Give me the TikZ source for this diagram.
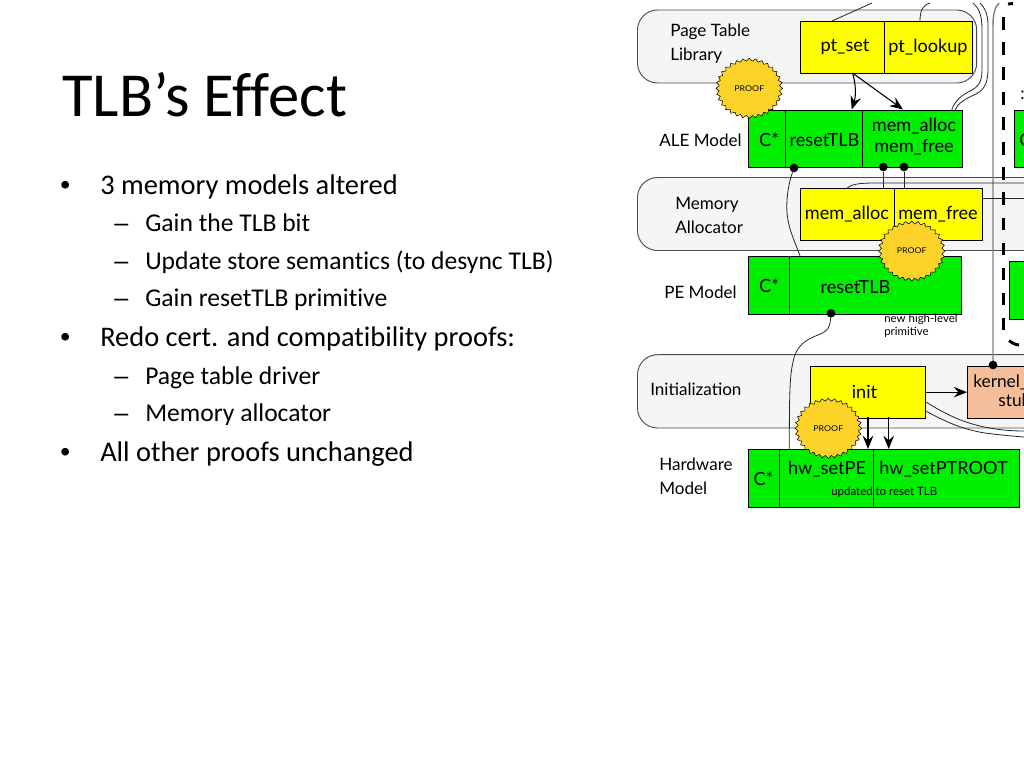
\documentclass[tikz,border=0pt]{standalone}
\usepackage{fontspec}
\setmainfont{Carlito}[Ligatures=NoCommon]
\newfontfamily\diagfont{Lato}
\newfontfamily\markfont{Liberation Sans}
\usetikzlibrary{shapes.geometric, arrows.meta, positioning}
\definecolor{boxgreen}{RGB}{0,238,0}
\definecolor{boxyellow}{RGB}{255,255,0}
\definecolor{sealgold}{RGB}{253,211,42}
\definecolor{stuborange}{RGB}{245,190,155}
\definecolor{layergray}{RGB}{245,245,245}
\tikzset{
    topbullet/.style={anchor=base west, font=\fontsize{21.3}{21.3}\selectfont, inner sep=0pt},
    subbullet/.style={anchor=base west, font=\fontsize{19.2}{19.2}\selectfont, inner sep=0pt},
    topmark/.style={anchor=base west, font=\markfont\fontsize{21}{21}\selectfont, inner sep=0pt},
    submark/.style={anchor=base west, font=\markfont\fontsize{18.9}{18.9}\selectfont, inner sep=0pt},
    layerbox/.style={draw=black!70, fill=layergray, rounded corners=15pt, line width=0.7pt},
    modulebox/.style={draw=black, line width=0.7pt, inner sep=0pt, anchor=north west},
    greenbox/.style={modulebox, fill=boxgreen, minimum height=43.3pt},
    yellowbox/.style={modulebox, fill=boxyellow, minimum height=39pt},
    layerlabel/.style={font=\diagfont\fontsize{12.8}{18}\selectfont, align=left, inner sep=0pt, anchor=west},
    boxlabel/.style={font=\diagfont\fontsize{13.6}{15.75}\selectfont, align=center, inner sep=0pt},
    stublabel/.style={font=\diagfont\fontsize{13}{15}\selectfont, inner sep=0pt, anchor=base west},
    smalllabel/.style={font=\diagfont\fontsize{8.6}{9.6}\selectfont, align=left, inner sep=0pt, anchor=west},
    proofseal/.style={star, star points=32, star point ratio=1.1, draw=black, fill=sealgold, line width=0.4pt, minimum size=50pt, inner sep=0pt, font=\diagfont\fontsize{6.6}{6.6}\selectfont, transform shape, yscale=0.9},
    wire/.style={draw=black!85, line width=0.6pt},
    arrowline/.style={draw=black, line width=0.8pt, -{Stealth[length=10pt,width=8pt,inset=3.5pt]}},
    pindot/.style={circle, fill=black, minimum size=6.5pt, inner sep=0pt},
    boundary/.style={draw=black, line width=2.2pt},
}
\begin{document}
\begin{tikzpicture}[x=0.75pt, y=-0.75pt]
    \useasboundingbox (0,0) rectangle (1024,768);
    \fill[white] (0,0) rectangle (1024,768);
    % title
    \node[anchor=base west, inner sep=0pt, font=\fontsize{47}{47}\selectfont] (title) at (62,116) {TLB’s Effect};
    % bullets
    \node[topmark] (b1) at (60,194) {•};
    \node[topbullet] (t1) at (100,194) {3 memory models altered};
    \node[submark] (d1) at (114,231) {–};
    \node[subbullet] (s1) at (145,231) {Gain the TLB bit};
    \node[submark] (d2) at (114,269) {–};
    \node[subbullet] (s2) at (145,269) {Update store semantics (to desync TLB)};
    \node[submark] (d3) at (114,306) {–};
    \node[subbullet] (s3) at (145,306) {Gain resetTLB primitive};
    \node[topmark] (b2) at (60,346) {•};
    \node[topbullet] (t2) at (100,346) {Redo cert. and compatibility proofs:};
    \node[submark] (d4) at (114,384) {–};
    \node[subbullet] (s4) at (145,384) {Page table driver};
    \node[submark] (d5) at (114,421) {–};
    \node[subbullet] (s5) at (145,421) {Memory allocator};
    \node[topmark] (b3) at (60,461) {•};
    \node[topbullet] (t3) at (100,461) {All other proofs unchanged};

    % layers
    \draw[layerbox] (637.5,10) rectangle (976.7,83);
    \draw[layerbox] (637.5,177.5) rectangle (1060,250.5);
    \draw[layerbox] (637.5,354.7) rectangle (1060,428);
    \node[layerlabel] (ptl) at (670,44) {Page Table\\Library};
    \node[layerlabel] (alel) at (659,140) {ALE Model};
    \node[layerlabel] (mal) at (675,215) {Memory\\Allocator};
    \node[layerlabel] (pel) at (664,292) {PE Model};
    \node[layerlabel] (inl) at (650,389) {Initialization};
    \node[layerlabel] (hwl) at (659,476) {Hardware\\Model};

    % free ends at the edge of the picture
    \coordinate (topa) at (872,3);
    \coordinate (topb) at (930,3);
    \coordinate (topc) at (973,3);
    \coordinate (topd) at (980,3);
    \coordinate (tope) at (999,3);
    \coordinate (edgea) at (1024,183);
    \coordinate (edgeb) at (1024,198.3);
    \coordinate (edgec) at (1024,431);
    \coordinate (edged) at (1024,437);

    % wires running behind the modules
    \draw[wire] (832,21) -- (topa);
    \draw[wire] (920,21) .. controls (920,10) and (923,5) .. (topb);
    \draw[wire] (951.7,110) .. controls (955,100) and (962,95) .. (972,90) .. controls (981,85) and (982,78) .. (982,68) -- (982,30) .. controls (982,15) and (979,8) .. (topc);
    \draw[wire] (955,110) .. controls (958,103) and (965,99) .. (976,94) .. controls (986,89) and (988,80) .. (988,68) -- (988,25) .. controls (988,15) and (985,8) .. (topd);
    \draw[draw=black!50, line width=1.1pt] (993,365) -- (993,25) .. controls (993,14) and (995,7) .. (tope);
    \draw[wire] (847,188) .. controls (852,184) and (860,183) .. (875,183) -- (edgea);
    \draw[wire] (982,198.3) -- (edgeb);
    \draw[wire] (925.5,401.7) .. controls (945,414) and (965,424) .. (990,428) .. controls (1000,430) and (1012,431) .. (edgec);
    \draw[wire] (925.5,411) .. controls (945,421) and (960,429) .. (985,433) .. controls (1000,435) and (1012,436) .. (edged);

    % trust boundary
    \draw[boundary, dash pattern=on 9.4pt off 9.4pt] (1003.3,17) -- (1003.3,330);
    \draw[boundary] (1008,4) -- (1013,3.5);
    \draw[boundary] (1009,340.7) .. controls (1012,343) and (1015,344.5) .. (1019,345);

    % modules
    \node[yellowbox, minimum width=63pt] (ptset) at (799.5,21) {};
    \node[yellowbox, minimum width=66.5pt] (ptlook) at (883.5,21) {};
    \node[greenbox, minimum width=27.5pt] (alec) at (748,109.5) {};
    \node[greenbox, minimum width=58pt] (aler) at (784.5,109.5) {};
    \node[greenbox, minimum width=74.7pt] (alem) at (862,109.5) {};
    \node[yellowbox, minimum width=71pt] (malloc) at (799.5,188) {};
    \node[yellowbox, minimum width=66.3pt] (mfree) at (894,188) {};
    \node[greenbox, minimum width=31pt] (pec) at (748,256) {};
    \node[greenbox, minimum width=129pt] (per) at (789.3,256) {};
    \node[yellowbox, minimum width=86.5pt] (init) at (810,365.7) {};
    \node[greenbox, minimum width=23.5pt] (hwc) at (748,449) {};
    \node[greenbox, minimum width=71pt] (hwpe) at (779,449) {};
    \node[greenbox, minimum width=109pt] (hwpt) at (873.3,449) {};
    \node[modulebox, fill=stuborange, minimum width=60pt, minimum height=39pt] (kern) at (967,365.7) {};
    \node[greenbox, minimum width=20pt] (rgta) at (1013.5,109.5) {};
    \node[greenbox, minimum width=20pt] (rgtb) at (1008.5,261) {};

    % dots on the modules
    \node[pindot] (pa) at (794,168) {};
    \node[pindot] (pb) at (883.3,167) {};
    \node[pindot] (pc) at (904,167) {};
    \node[pindot] (pd) at (831,313.3) {};
    \node[pindot] (pe) at (993,365) {};

    % wires from the dots
    \draw[wire] (pa) .. controls (788,185) and (785,205) .. (788,220) .. controls (790,232) and (796,245) .. (800,255.7);
    \draw[wire] (pb) -- (883.3,188);
    \draw[wire] (pc) -- (904,188);
    \draw[wire] (pd) .. controls (830,326) and (829,331) .. (818,335) .. controls (805,340) and (796,346) .. (793,362) .. controls (790,375) and (789.3,390) .. (789.3,449);

    % arrows
    \draw[arrowline] (852.5,73) .. controls (856,84) and (856,96) .. (851.7,109.5);
    \draw[arrowline] (852.5,73) -- (903,109.5);
    \draw[arrowline] (868,417) -- (868,449);
    \draw[arrowline] (888.7,417) -- (888.7,449);
    \draw[arrowline] (init.east) -- (kern.west);

    % labels in the modules
    \node[boxlabel] (lptset) at (845,47) {pt\_set};
    \node[boxlabel] (lptlook) at (928,47) {pt\_lookup};
    \node[boxlabel] (lalec) at (769,140) {C*};
    \node[boxlabel] (laler) at (824.5,140) {resetTLB};
    \node[boxlabel] (lalem) at (914,137) {mem\_alloc\\mem\_free};
    \node[boxlabel] (lmall) at (847,214) {mem\_alloc};
    \node[boxlabel] (lmfree) at (938,214) {mem\_free};
    \node[boxlabel] (lpec) at (769,286) {C*};
    \node[boxlabel] (lper) at (855.5,287) {resetTLB};
    \node[boxlabel] (linit) at (864.5,392) {init};
    \node[boxlabel] (lhwc) at (763.5,479) {C*};
    \node[boxlabel] (lhwpe) at (827,469) {hw\_setPE};
    \node[boxlabel] (lhwpt) at (943.5,469) {hw\_setPTROOT};
    \node[smalllabel] (upd) at (831,492) {updated to reset TLB};
    \node[smalllabel] (newp) at (884,326) {new high-level\\primitive};
    \node[stublabel] (lkern) at (973,387) {kernel\_};
    \node[stublabel] (lstub) at (998,406) {stub};
    \node[boxlabel, anchor=base west] (lrgta) at (1019,146) {C*};
    \node[stublabel] (lcolon) at (1020,99) {:};

    % seals
    \node[shift={(749.3,88.3)}, proofseal] (seala) {PROOF};
    \node[shift={(911.7,251)}, proofseal] (sealb) {PROOF};
    \node[shift={(828.3,428.3)}, proofseal] (sealc) {PROOF};
\end{tikzpicture}
\end{document}
